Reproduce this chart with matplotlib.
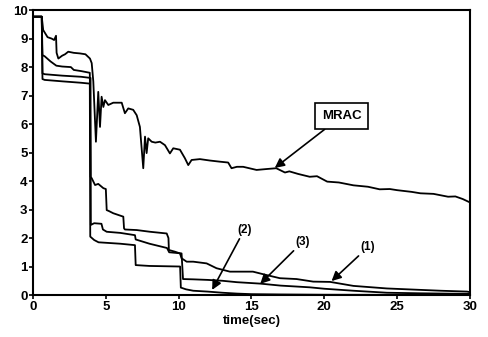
import matplotlib
matplotlib.use('Agg')
import matplotlib.pyplot as plt

plt.rcParams['font.family'] = ['Liberation Sans', 'DejaVu Sans']
plt.rcParams['font.weight'] = 'bold'

# MRAC curve
t_mrac = [0, 0.6, 0.7, 0.82, 1.0, 1.28, 1.45, 1.58, 1.62, 1.74, 2.0, 2.2, 2.42, 2.8, 3.22, 3.6,
          3.91, 4.03, 4.14, 4.32, 4.48, 4.6, 4.71, 4.83, 4.94, 5.17, 5.51, 6.09, 6.31, 6.54,
          6.88, 7.12, 7.34, 7.57, 7.69, 7.8, 7.91, 8.15, 8.4, 8.72, 9.06, 9.4, 9.63, 10.09,
          10.43, 10.66, 10.89, 11.46, 12.15, 12.83, 13.4, 13.63, 14.0, 14.43, 15.35, 16.0,
          16.7, 17.3, 17.6, 18.2, 19.0, 19.5, 20.2, 21.0, 21.5, 22.0, 23.0, 23.8, 24.5, 25.0,
          26.0, 26.6, 27.5, 28.5, 29.0, 29.5, 30]
y_mrac = [9.77, 9.77, 9.3, 9.2, 9.05, 9.0, 8.95, 9.1, 8.5, 8.3, 8.4, 8.45, 8.54, 8.5, 8.48, 8.45,
          8.3, 8.14, 7.5, 5.38, 7.13, 5.9, 6.96, 6.6, 6.84, 6.67, 6.75, 6.75, 6.38, 6.55,
          6.5, 6.31, 5.9, 4.45, 5.56, 4.98, 5.5, 5.38, 5.35, 5.38, 5.26, 4.97, 5.15, 5.1,
          4.8, 4.56, 4.74, 4.77, 4.72, 4.68, 4.65, 4.45, 4.5, 4.5, 4.39, 4.42, 4.45, 4.3,
          4.34, 4.25, 4.15, 4.17, 3.98, 3.95, 3.9, 3.85, 3.8, 3.71, 3.72, 3.68, 3.62, 3.57,
          3.55, 3.45, 3.46, 3.37, 3.25]

# curve (1)
t_1 = [0, 0.6, 0.65, 0.8, 1.2, 1.6, 2.0, 2.6, 2.8, 3.3, 3.9, 3.95, 4.03, 4.26, 4.48, 4.83,
       5.0, 5.06, 5.2, 5.51, 6.2, 6.25, 6.31, 7.12, 8.03, 9.18, 9.3, 9.33, 9.75, 10.09, 10.2,
       10.55, 11.0, 11.46, 11.92, 12.6, 13.52, 15.1, 16.04, 16.95, 18.1, 19.24, 20.4, 22.0,
       24.3, 26.6, 28.0, 29.8, 30]
y_1 = [9.77, 9.77, 8.42, 8.38, 8.2, 8.05, 8.02, 8.0, 7.9, 7.86, 7.8, 4.15, 4.1, 3.86, 3.9, 3.75,
       3.72, 2.98, 2.95, 2.87, 2.75, 2.34, 2.3, 2.28, 2.22, 2.16, 2.0, 1.58, 1.52, 1.46, 1.29,
       1.17, 1.17, 1.14, 1.11, 0.94, 0.82, 0.82, 0.7, 0.59, 0.56, 0.47, 0.46, 0.32,
       0.23, 0.18, 0.15, 0.12, 0.1]

# curve (3)
t_3 = [0, 0.6, 0.65, 0.8, 2.0, 3.3, 3.95, 3.97, 4.2, 4.7, 4.8, 5.06, 6.0, 7.0, 7.05, 8.0, 9.2,
       9.35, 10.2, 10.3, 11.0, 12.0, 13.0, 14.0, 15.6, 17.0, 19.0, 20.0, 22.0, 24.3, 26.6, 30]
y_3 = [9.77, 9.77, 7.78, 7.75, 7.7, 7.66, 7.62, 2.46, 2.52, 2.5, 2.3, 2.22, 2.18, 2.1, 1.95, 1.8,
       1.65, 1.5, 1.46, 0.56, 0.55, 0.53, 0.5, 0.45, 0.4, 0.33, 0.27, 0.22, 0.15, 0.08, 0.06, 0.04]

# curve (2)
t_2 = [0, 0.6, 0.65, 0.8, 2.0, 3.3, 3.9, 3.93, 4.2, 4.5, 6.0, 7.0, 7.05, 8.0, 10.1, 10.15,
       10.5, 11.0, 12.0, 13.0, 14.0, 15.0, 17.0, 20, 30]
y_2 = [9.77, 9.77, 7.58, 7.55, 7.5, 7.45, 7.42, 2.05, 1.93, 1.85, 1.8, 1.75, 1.05, 1.02, 1.0, 0.26,
       0.2, 0.15, 0.12, 0.08, 0.05, 0.03, 0.02, 0.01, 0.0]

fig = plt.figure(figsize=(4.89, 3.37), dpi=100)
ax = fig.add_axes([0.0675, 0.1246, 0.8935, 0.8454])

for t, y in [(t_mrac, y_mrac), (t_1, y_1), (t_3, y_3), (t_2, y_2)]:
    ax.plot(t, y, color='black', lw=1.3)

ax.set_xlim(0, 30)
ax.set_ylim(0, 10)
ax.set_xticks([0, 5, 10, 15, 20, 25, 30])
ax.set_yticks(range(11))
ax.tick_params(direction='out', length=3, width=1.2, labelsize=9.5, pad=1)
for s in ax.spines.values():
    s.set_linewidth(1.5)
ax.set_xlabel('time(sec)', fontsize=9.5, fontweight='bold', labelpad=2)

arrow = dict(arrowstyle='-|>', color='black', lw=1.2, mutation_scale=14, shrinkA=0, shrinkB=0)
ax.annotate('MRAC', xy=(16.6, 4.46), xytext=(21.2, 6.28), fontsize=9.5, fontweight='bold',
            ha='center', va='center', arrowprops=arrow,
            bbox=dict(boxstyle='square,pad=0.5', fc='white', ec='black', lw=1.2))
ax.annotate('(2)', xy=(12.3, 0.18), xytext=(14.5, 2.28), fontsize=8.5, fontweight='bold',
            ha='center', va='center', arrowprops=arrow)
ax.annotate('(3)', xy=(15.6, 0.39), xytext=(18.5, 1.86), fontsize=8.5, fontweight='bold',
            ha='center', va='center', arrowprops=arrow)
ax.annotate('(1)', xy=(20.5, 0.49), xytext=(23.0, 1.68), fontsize=8.5, fontweight='bold',
            ha='center', va='center', arrowprops=arrow)

fig.savefig('out.png', dpi=100)
